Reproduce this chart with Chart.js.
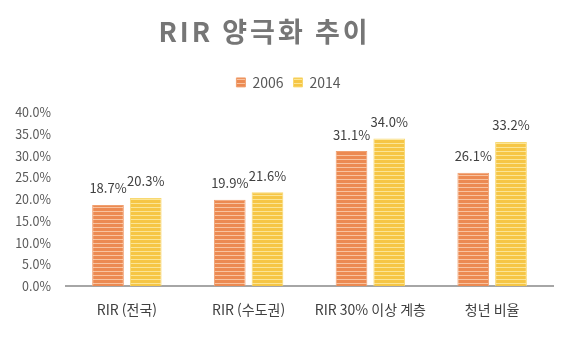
<!DOCTYPE html>
<html lang="ko">
<head>
  <meta charset="UTF-8" />
  <title>RIR 양극화 추이</title>
  <script src="https://cdn.jsdelivr.net/npm/chart.js"></script>
  <style>
    html, body { margin: 0; padding: 0; background: #fff; }
    #wrap { width: 567px; height: 340px; }
  </style>
</head>
<body>
  <div id="wrap"><canvas id="rirChart" width="567" height="340"></canvas></div>

  <script>
    const categories = ['RIR (전국)', 'RIR (수도권)', 'RIR 30% 이상 계층', '청년 비율'];
    const values2006 = [18.7, 19.9, 31.1, 26.1];
    const values2014 = [20.3, 21.6, 34.0, 33.2];
    const seriesNames = ['2006', '2014'];
    const titleText = 'RIR 양극화 추이';

    const FONT = "'Noto Sans CJK KR', 'Noto Sans', sans-serif";

    // striped fill like the excel picture
    function stripes(base, line) {
      const c = document.createElement('canvas');
      c.width = 4; c.height = 4;
      const g = c.getContext('2d');
      g.fillStyle = base;
      g.fillRect(0, 0, 4, 4);
      g.fillStyle = line;
      g.fillRect(0, 3, 4, 1);
      return g.createPattern(c, 'repeat');
    }

    const orangeFill = stripes('#EC8A52', '#F8C3A0');
    const yellowFill = stripes('#F6C645', '#FBE596');

    // value labels above each bar
    const labelPlugin = {
      id: 'barLabels',
      afterDatasetsDraw(chart) {
        const ctx = chart.ctx;
        ctx.save();
        ctx.font = '13px ' + FONT;
        ctx.fillStyle = '#404040';
        ctx.textAlign = 'center';
        ctx.textBaseline = 'bottom';
        chart.data.datasets.forEach((ds, i) => {
          chart.getDatasetMeta(i).data.forEach((bar, j) => {
            ctx.fillText(ds.data[j].toFixed(1) + '%', bar.x, bar.y - 10);
          });
        });
        ctx.restore();
      }
    };

    // title drawn by hand so it can get letter spacing
    const titlePlugin = {
      id: 'spacedTitle',
      afterDraw(chart) {
        const ctx = chart.ctx;
        ctx.save();
        ctx.font = 'bold 27px ' + FONT;
        ctx.fillStyle = '#767676';
        ctx.textAlign = 'center';
        ctx.textBaseline = 'middle';
        ctx.letterSpacing = '3px';
        ctx.fillText(titleText, 263 + 1.5, 32);
        ctx.restore();
      }
    };

    // extra room under the legend, and nudge it a bit to the right
    const legendGap = {
      id: 'legendGap',
      beforeInit(chart) {
        const fit = chart.legend.fit;
        chart.legend.fit = function () {
          fit.bind(chart.legend)();
          this.height += 13;
        };
      },
      afterLayout(chart) {
        chart.legend.left += 9;
        chart.legend.right += 9;
      }
    };

    new Chart(document.getElementById('rirChart'), {
      type: 'bar',
      data: {
        labels: categories,
        datasets: [
          { label: seriesNames[0], data: values2006, backgroundColor: orangeFill,
            borderColor: '#F0A070', borderWidth: 1, borderSkipped: 'bottom' },
          { label: seriesNames[1], data: values2014, backgroundColor: yellowFill,
            borderColor: '#F8D870', borderWidth: 1, borderSkipped: 'bottom' }
        ]
      },
      options: {
        responsive: false,
        animation: false,
        layout: { padding: { left: 6, right: 14, top: 0, bottom: 7 } },
        datasets: { bar: { categoryPercentage: 0.62, barPercentage: 0.84 } },
        plugins: {
          title: {
            display: true,
            text: titleText,
            color: 'rgba(0,0,0,0)',
            font: { family: FONT, size: 27, weight: 'bold' },
            padding: { top: 14, bottom: 19 }
          },
          legend: {
            display: true,
            labels: {
              color: '#595959',
              font: { family: FONT, size: 14 },
              boxWidth: 9, boxHeight: 9,
              padding: 10
            }
          },
          tooltip: { enabled: false }
        },
        scales: {
          x: {
            grid: { display: false, drawTicks: false },
            border: { color: '#A6A6A6', width: 2 },
            ticks: { color: '#404040', font: { family: FONT, size: 14 }, padding: 15 }
          },
          y: {
            min: 0, max: 40,
            grid: { display: false, drawTicks: false },
            border: { display: false },
            afterFit(scale) { scale.width = 60; },
            ticks: {
              stepSize: 5,
              color: '#595959',
              padding: 15,
              font: { family: FONT, size: 12.5 },
              callback: v => v.toFixed(1) + '%'
            }
          }
        }
      },
      plugins: [labelPlugin, titlePlugin, legendGap]
    });
  </script>
</body>
</html>
